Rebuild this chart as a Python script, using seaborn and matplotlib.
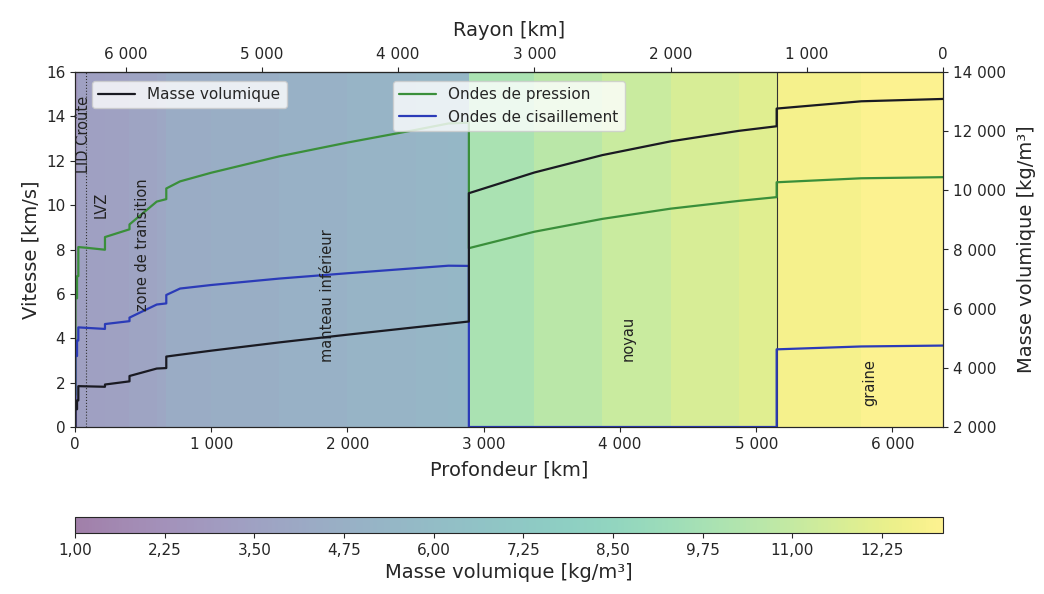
import matplotlib
matplotlib.use("Agg")
import matplotlib.pyplot as plt
import matplotlib.ticker as mticker
import seaborn as sns
import numpy as np

# Modèle de Terre (proche de PREM)
depth_km = [0, 3, 3, 15, 15, 24.4, 24.4, 80, 220, 220, 400, 400, 600, 670, 670,
            771, 1000, 1500, 2000, 2500, 2741, 2891, 2891, 3371, 3871, 4371,
            4871, 5150, 5150, 5771, 6371]
vp_kms = [1.45, 1.45, 5.80, 5.80, 6.80, 6.80, 8.11, 8.08, 7.99, 8.56, 8.91, 9.13,
          10.16, 10.27, 10.75, 11.07, 11.46, 12.20, 12.82, 13.39, 13.68, 13.72,
          8.06, 8.80, 9.38, 9.84, 10.19, 10.36, 11.03, 11.21, 11.26]
vs_kms = [0, 0, 3.20, 3.20, 3.90, 3.90, 4.49, 4.47, 4.42, 4.64, 4.77, 4.93,
          5.52, 5.57, 5.95, 6.24, 6.40, 6.69, 6.93, 7.16, 7.27, 7.26,
          0, 0, 0, 0, 0, 0, 3.50, 3.63, 3.67]
rho_kgm3 = [1020, 1020, 2600, 2600, 2900, 2900, 3381, 3375, 3360, 3436, 3543, 3724,
            3976, 3992, 4381, 4443, 4580, 4860, 5121, 5372, 5491, 5566,
            9903, 10602, 11191, 11655, 12010, 12166, 12764, 13010, 13089]

layer_names = ["LID Croûte", "LVZ", "zone de transition", "manteau inférieur",
               "noyau", "graine"]
layer_depth = [62, 190, 492, 1850, 4060, 5835]
layer_speed = [13.2, 10.0, 8.2, 5.9, 4.0, 2.0]

boundaries_km = [80, 5150]
radius_ticks = [6000, 5000, 4000, 3000, 2000, 1000, 0]
cbar_ticks = [1.00, 2.25, 3.50, 4.75, 6.00, 7.25, 8.50, 9.75, 11.00, 12.25]
R_TERRE = 6371

sns.set_style("ticks")
plt.rcParams['font.family'] = ['DejaVu Sans']

W, H = 1044, 594
fig = plt.figure(figsize=(W / 100, H / 100), dpi=100)
ax = fig.add_axes([75 / W, (H - 427) / H, 868 / W, 355 / H])
cax = fig.add_axes([75 / W, (H - 533) / H, 868 / W, 16 / H])

# fond coloré selon la masse volumique (une bande par intervalle du modèle)
rho_gcc = np.array(rho_kgm3) / 1000.0
mesh = ax.pcolormesh(depth_km, [0, 16], rho_gcc[None, :-1],
                     shading="flat", cmap="viridis", alpha=0.5,
                     vmin=1.0, vmax=13.1, zorder=0, antialiased=False,
                     linewidth=0, rasterized=True)

for b in boundaries_km:
    ls = ":" if b < 1000 else "-"
    ax.axvline(b, color="#333333", lw=0.8, ls=ls, zorder=1)

sns.lineplot(x=depth_km, y=vp_kms, sort=False, estimator=None, ax=ax,
             color="#3a8f3a", lw=1.6, label="Ondes de pression")
sns.lineplot(x=depth_km, y=vs_kms, sort=False, estimator=None, ax=ax,
             color="#2b3bb8", lw=1.6, label="Ondes de cisaillement")

ax2 = ax.twinx()
sns.lineplot(x=depth_km, y=rho_kgm3, sort=False, estimator=None, ax=ax2,
             color="#1a1a22", lw=1.6, label="Masse volumique")

for name, d, v in zip(layer_names, layer_depth, layer_speed):
    ax.text(d, v, name, rotation=90, ha="center", va="center",
            fontsize=10.5, color="#222222")

ax.set_xlim(0, R_TERRE)
ax.set_ylim(0, 16)
ax2.set_ylim(2000, 14000)
ax.yaxis.set_major_locator(mticker.MultipleLocator(2))
ax2.yaxis.set_major_locator(mticker.MultipleLocator(2000))


def milliers(v, pos=None):
    return f"{int(round(v)):,}".replace(",", " ")


ax.xaxis.set_major_formatter(mticker.FuncFormatter(milliers))
ax2.yaxis.set_major_formatter(mticker.FuncFormatter(milliers))

secax = ax.secondary_xaxis("top", functions=(lambda d: R_TERRE - d,
                                             lambda r: R_TERRE - r))
secax.xaxis.set_major_locator(mticker.FixedLocator(radius_ticks))
secax.xaxis.set_major_formatter(mticker.FuncFormatter(milliers))
secax.set_xlabel("Rayon [km]", fontsize=14, labelpad=8)

ax.set_xlabel("Profondeur [km]", fontsize=14, labelpad=6)
ax.set_ylabel("Vitesse [km/s]", fontsize=14)
ax2.set_ylabel("Masse volumique [kg/m³]", fontsize=14, labelpad=8)
for a in (ax, ax2):
    a.tick_params(labelsize=11)
secax.tick_params(labelsize=11)

ax.legend(loc="upper center", bbox_to_anchor=(0.5, 0.975), borderaxespad=0,
          fontsize=11, framealpha=0.8, handlelength=2.4, frameon=True)
ax2.legend(loc="upper left", bbox_to_anchor=(0.02, 0.975), borderaxespad=0,
           fontsize=11, framealpha=0.8, handlelength=2.4, frameon=True)

cbar = fig.colorbar(mesh, cax=cax, orientation="horizontal")
cbar.set_ticks(cbar_ticks)
cbar.ax.xaxis.set_major_formatter(
    mticker.FuncFormatter(lambda v, p: f"{v:.2f}".replace(".", ",")))
cbar.ax.tick_params(labelsize=11)
cbar.set_label("Masse volumique [kg/m³]", fontsize=14)

fig.savefig("out.png", dpi=100)
